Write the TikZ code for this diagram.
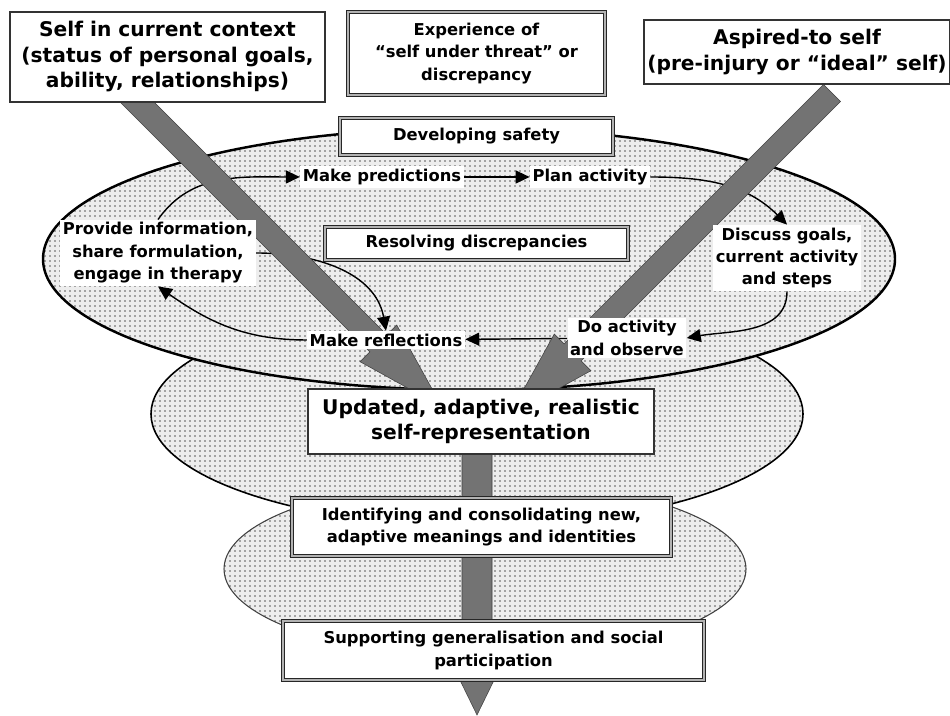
\documentclass[tikz,border=0pt]{standalone}
\usepackage{fontspec}
\setmainfont{DejaVu Sans}
\usetikzlibrary{arrows.meta}
\pgfdeclarelayer{back}
\pgfdeclarelayer{links}
\pgfdeclarelayer{bands}
\pgfsetlayers{back,links,bands,main}
\newcommand{\largebold}{\fontsize{11.5}{14.5}\selectfont\bfseries}
\newcommand{\midbold}{\fontsize{9.3}{12.8}\selectfont\bfseries}

\begin{document}
\begin{tikzpicture}[
  x=0.2mm, y=0.2mm,
  >={Triangle[length=2.8mm,width=2.6mm]},
  every node/.style={font=\midbold,align=center},
  plainbox/.style={draw=black!80,line width=0.9pt,fill=white,inner sep=2pt},
  dblbox/.style={draw=black!85,double=black!30,double distance=0.9pt,line width=0.6pt,fill=white,inner sep=2pt},
  lbl/.style={fill=white,inner sep=1.5pt},
  dotrow/.style={black!65,line width=0.34mm,line cap=round,dash pattern=on 0pt off 1mm},
  band/.style={fill=black!55,draw=black!75,line width=0.3pt},
  flow/.style={->,line width=0.8pt}
]
  \useasboundingbox (0,0) rectangle (950,716);

  % boxes
  \node[plainbox,font=\largebold,minimum width=63mm,minimum height=18mm] (self) at (167.5,659)
    {Self in current context\\(status of personal goals,\\ability, relationships)};
  \node[dblbox,minimum width=51.4mm,minimum height=16.6mm] (threat) at (476.5,662.5)
    {Experience of\\“self under threat” or\\discrepancy};
  \node[plainbox,font=\largebold,minimum width=60mm,minimum height=12.8mm] (aspired) at (797,664)
    {Aspired-to self\\(pre-injury or “ideal” self)};
  \node[dblbox,minimum width=54.6mm,minimum height=7.4mm] (safety) at (476.5,579.5) {Developing safety};
  \node[dblbox,minimum width=60.6mm,minimum height=6.6mm] (resolve) at (476.5,472.5) {Resolving discrepancies};
  \node[plainbox,font=\largebold,minimum width=69.2mm,minimum height=13mm] (updated) at (481,294.5)
    {Updated, adaptive, realistic\\self-representation};
  \node[dblbox,minimum width=75.8mm,minimum height=11.6mm] (identify) at (481.5,189)
    {Identifying and consolidating new,\\adaptive meanings and identities};
  \node[dblbox,minimum width=84.2mm,minimum height=11.8mm] (support) at (493.5,65.5)
    {Supporting generalisation and social\\participation};

  % cycle labels
  \node[lbl] (predict) at (382,539) {Make predictions};
  \node[lbl] (plan) at (590,539) {Plan activity};
  \node[lbl] (discuss) at (787,458) {Discuss goals,\\current activity\\and steps};
  \node[lbl] (doact) at (627,378) {Do activity\\and observe};
  \node[lbl] (reflect) at (386,376) {Make reflections};
  \node[lbl] (provide) at (158,463) {Provide information,\\share formulation,\\engage in therapy};

  \begin{pgfonlayer}{back}
    % lower ellipse
    \begin{scope}
      \clip (485,147) ellipse [x radius=261,y radius=89];
      \fill[black!7] (220,55) rectangle (750,240);
      \foreach \y in {60,65,...,235} \draw[dotrow] (225,\y) -- (748,\y);
    \end{scope}
    \draw[line width=0.6pt,draw=black!75] (485,147) ellipse [x radius=261,y radius=89];
    % middle ellipse
    \begin{scope}
      \clip (477,302) ellipse [x radius=326,y radius=112];
      \fill[black!7] (145,185) rectangle (810,420);
      \foreach \y in {190,195,...,415} \draw[dotrow] (150,\y) -- (805,\y);
    \end{scope}
    \draw[line width=0.9pt] (477,302) ellipse [x radius=326,y radius=112];
    % upper ellipse
    \begin{scope}
      \clip (469,457) ellipse [x radius=426,y radius=131];
      \fill[black!7] (40,320) rectangle (900,595);
      \foreach \y in {325,330,...,590} \draw[dotrow] (45,\y) -- (895,\y);
    \end{scope}
    \draw[line width=1.4pt] (469,457) ellipse [x radius=426,y radius=131];
  \end{pgfonlayer}

  \begin{pgfonlayer}{links}
    \draw[flow] (provide.north) to[out=55,in=180] (predict.west);
    \draw[flow] (predict) -- (plan);
    \draw[flow] (plan.east) to[out=0,in=135] (discuss.north);
    \draw[flow] (discuss.south) to[out=-90,in=10] (doact.east);
    \draw[flow] (doact) -- (reflect);
    \draw[flow] (reflect.west) to[out=180,in=-35] (provide.south);
    \draw[flow] (provide.east) to[out=0,in=100] (reflect.north);
  \end{pgfonlayer}

  \begin{pgfonlayer}{bands}
    \draw[band] (128.5,639.5) -- (386.9,381.1) -- (396.7,391.0) -- (442,309)
      -- (360.0,354.3) -- (369.9,364.2) -- (111.5,622.5) -- cycle;
    \draw[band] (840.5,614.5) -- (581.1,355.2) -- (591.0,345.3) -- (509,300)
      -- (554.3,382.0) -- (564.2,372.1) -- (823.5,631.5) -- cycle;
    \draw[band] (462,300) -- (492,300) -- (492,46) -- (499,46) -- (477,1)
      -- (455,46) -- (462,46) -- cycle;
  \end{pgfonlayer}
\end{tikzpicture}
\end{document}
